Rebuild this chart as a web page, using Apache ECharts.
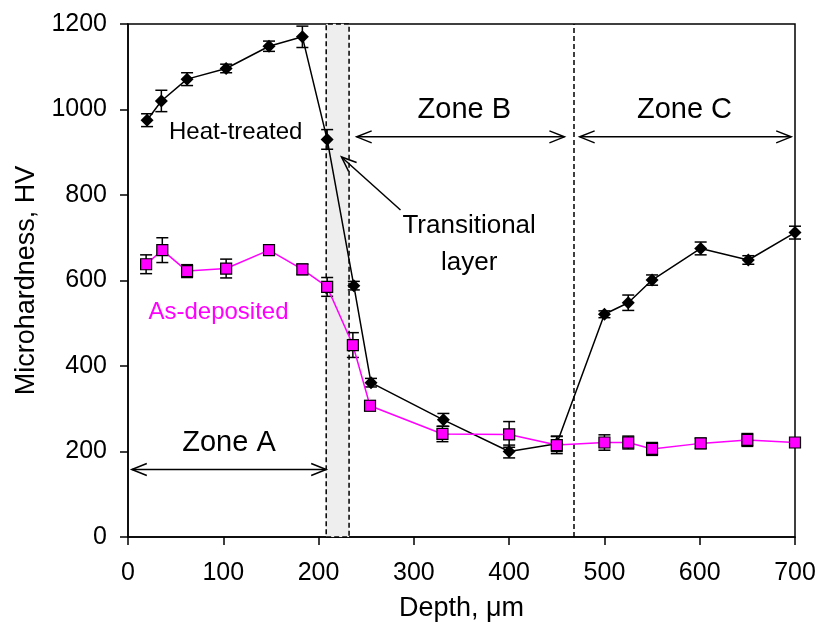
<!DOCTYPE html>
<html>
<head>
<meta charset="utf-8">
<script src="https://cdn.jsdelivr.net/npm/echarts@6/dist/echarts.min.js"></script>
<style>
  html, body { margin: 0; padding: 0; background: #fff; }
  #chartCover { width: 822px; height: 631px; }
</style>
</head>
<body>
<div id="chartCover"></div>
<script>
    // heat-treated (black diamonds)
    var depthHT = [20, 35, 62, 103, 148, 183, 209, 237, 255, 331, 400, 450, 500, 525, 550, 601, 651, 700];
    var hvHT    = [975, 1020, 1071, 1096, 1148, 1170, 930, 588, 361, 274, 200, 218, 521, 548, 601, 675, 648, 712];
    var errHT   = [15, 25, 15, 10, 12, 25, 23, 10, 10, 15, 15, 18, 8, 18, 12, 15, 10, 15];

    // as-deposited (magenta squares)
    var depthAD = [19, 36, 62, 103, 148, 183, 209, 236, 254, 330, 400, 450, 500, 525, 550, 601, 650, 700];
    var hvAD    = [638, 671, 622, 628, 671, 626, 585, 449, 307, 241, 240, 215, 221, 221, 206, 219, 227, 221];
    var errAD   = [22, 29, 15, 22, 12, 12, 22, 29, 12, 18, 30, 20, 18, 15, 15, 12, 15, 0];

    var xTicks = [0, 100, 200, 300, 400, 500, 600, 700];
    var yTicks = [0, 200, 400, 600, 800, 1000, 1200];

    var layerStart = 208, layerEnd = 232, zoneBCEdge = 468;

    var fontName = "'Liberation Sans', Arial, sans-serif";

    function pairs(xs, ys){
      var out = [];
      for (var i = 0; i < xs.length; i++) out.push([xs[i], ys[i]]);
      return out;
    }
    function errRows(xs, ys, es){
      var out = [];
      for (var i = 0; i < xs.length; i++) {
        if (es[i] > 0) out.push([xs[i], ys[i] - es[i], ys[i] + es[i]]);
      }
      return out;
    }
    function renderErr(params, api){
      var x = api.value(0);
      var lo = api.coord([x, api.value(1)]);
      var hi = api.coord([x, api.value(2)]);
      var w = 6;
      var st = {stroke: '#000', lineWidth: 1.5};
      return {type: 'group', children: [
        {type: 'line', shape: {x1: lo[0], y1: lo[1], x2: hi[0], y2: hi[1]}, style: st},
        {type: 'line', shape: {x1: lo[0]-w, y1: lo[1], x2: lo[0]+w, y2: lo[1]}, style: st},
        {type: 'line', shape: {x1: hi[0]-w, y1: hi[1], x2: hi[0]+w, y2: hi[1]}, style: st}
      ]};
    }

    var option = {
      animation: false,
      grid: {
        left: 128, right: 27, top: 24, bottom: 94,
        show: true, borderColor: '#000', borderWidth: 1.5
      },
      xAxis: {
        type: 'value', min: 0, max: 700, interval: 100,
        name: 'Depth, \u03bcm', nameLocation: 'middle', nameGap: 58,
        nameTextStyle: {fontSize: 27, color: '#000', fontFamily: fontName},
        axisLine: {lineStyle: {color: '#000', width: 1.5}},
        axisTick: {show: true, inside: false, length: 8, lineStyle: {color: '#000', width: 1.5}},
        axisLabel: {margin: 24, fontSize: 25, color: '#000', fontFamily: fontName,
          formatter: function(v){ return xTicks.indexOf(v) >= 0 ? String(v) : ''; }},
        splitLine: {show: false}
      },
      yAxis: {
        type: 'value', min: 0, max: 1200, interval: 200,
        name: 'Microhardness, HV', nameLocation: 'middle', nameGap: 84,
        nameTextStyle: {fontSize: 27, color: '#000', fontFamily: fontName},
        axisLine: {show: true, lineStyle: {color: '#000', width: 1.5}},
        axisTick: {show: true, inside: false, length: 8, lineStyle: {color: '#000', width: 1.5}},
        axisLabel: {margin: 21, fontSize: 25, color: '#000', fontFamily: fontName,
          formatter: function(v){ return yTicks.indexOf(v) >= 0 ? String(v) : ''; }},
        splitLine: {show: false}
      },
      series: [
        {
          type: 'line', data: [], silent: true,
          markArea: {
            silent: true,
            itemStyle: {color: '#eeeeee', borderColor: '#000', borderWidth: 1.5, borderType: [5, 3]},
            data: [[{xAxis: layerStart, yAxis: 0}, {xAxis: layerEnd, yAxis: 1200}]]
          },
          markLine: {
            silent: true, symbol: 'none', label: {show: false},
            lineStyle: {color: '#000', width: 1.5, type: [5, 3]},
            data: [{xAxis: zoneBCEdge}]
          }
        },
        {type: 'custom', renderItem: renderErr, data: errRows(depthHT, hvHT, errHT), z: 3, silent: true},
        {type: 'custom', renderItem: renderErr, data: errRows(depthAD, hvAD, errAD), z: 3, silent: true},
        {
          name: 'Heat-treated', type: 'line', data: pairs(depthHT, hvHT), z: 4,
          symbol: 'diamond', symbolSize: 13,
          lineStyle: {color: '#000', width: 1.5},
          itemStyle: {color: '#000'}
        },
        {
          name: 'As-deposited', type: 'line', data: pairs(depthAD, hvAD), z: 5,
          symbol: 'rect', symbolSize: 11,
          lineStyle: {color: '#ff00ff', width: 1.5},
          itemStyle: {color: '#ff00ff', borderColor: '#000', borderWidth: 1.2}
        }
      ]
    };

    var myChart = echarts.init(document.getElementById('chartCover'));
    myChart.setOption(option);

    function px(x, y){ return myChart.convertToPixel({gridIndex: 0}, [x, y]); }

    function headPts(tip, from){
      var dx = from[0]-tip[0], dy = from[1]-tip[1];
      var len = Math.sqrt(dx*dx + dy*dy);
      var ux = dx/len, uy = dy/len, L = 15, W = 6;
      return [[tip[0]+ux*L-uy*W, tip[1]+uy*L+ux*W], tip, [tip[0]+ux*L+uy*W, tip[1]+uy*L-ux*W]];
    }
    function arrow(a, b, both){
      var p1 = px(a[0], a[1]), p2 = px(b[0], b[1]);
      var st = {stroke: '#000', lineWidth: 1.5, fill: null};
      var els = [
        {type: 'polyline', shape: {points: [p1, p2]}, style: st, z: 10},
        {type: 'polyline', shape: {points: headPts(p2, p1)}, style: st, z: 10}
      ];
      if (both) els.push({type: 'polyline', shape: {points: headPts(p1, p2)}, style: st, z: 10});
      return els;
    }
    function label(txt, x, y, size, color){
      var p = px(x, y);
      return {type: 'text', x: p[0], y: p[1], z: 10,
        style: {text: txt, fontSize: size, fontFamily: fontName, fill: color || '#000', align: 'center', verticalAlign: 'middle'}};
    }

    var g = [];
    g = g.concat(arrow([4, 158], [layerStart, 158], true));
    g = g.concat(arrow([240, 936], [458, 936], true));
    g = g.concat(arrow([474, 936], [696, 936], true));
    g = g.concat(arrow([286, 765], [224, 889], false));
    g.push(label('Zone A', 106, 220, 29));
    g.push(label('Zone B', 353, 1000, 29));
    g.push(label('Zone C', 584, 1000, 29));
    g.push(label('Heat-treated', 113, 947, 24));
    g.push(label('As-deposited', 95, 526, 24, '#ff00ff'));
    g.push(label('Transitional', 358, 727, 26));
    g.push(label('layer', 358, 641, 26));
    myChart.setOption({graphic: g});
</script>
</body>
</html>
